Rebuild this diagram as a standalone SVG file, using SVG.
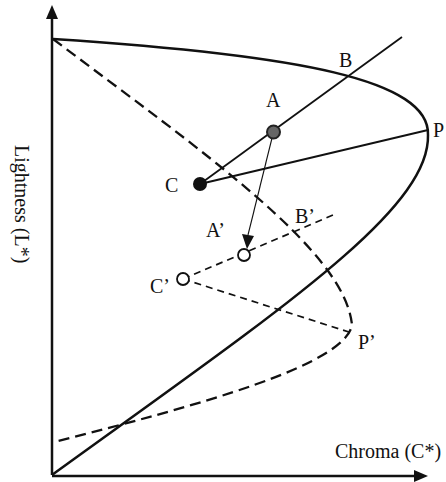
<svg xmlns="http://www.w3.org/2000/svg" width="446" height="482" viewBox="0 0 446 482">
<style>
.t{font-family:"Liberation Serif","Times New Roman",serif;font-size:20px;fill:#111}
.solid{fill:none;stroke:#111;stroke-width:2.5}
.thin{fill:none;stroke:#111;stroke-width:1.8}
.dash{fill:none;stroke:#111;stroke-width:2.3;stroke-dasharray:11 6}
.dash2{fill:none;stroke:#111;stroke-width:1.7;stroke-dasharray:7 5}
</style>
<rect width="446" height="482" fill="#fff"/>
<g id="axes">
<line x1="52" y1="475" x2="52" y2="18" class="solid"/>
<polygon points="52,5 46,19 58,19" fill="#111"/>
<line x1="52" y1="476" x2="414" y2="476" class="solid"/>
<polygon points="428,476 414,470 414,482" fill="#111"/>
<text class="t" x="335" y="458">Chroma (C*)</text>
<text class="t" transform="translate(15,145) rotate(90)">Lightness (L*)</text>
</g>
<g id="connectors">
<path id="gamut" class="solid" d="M53,39 C300,55 430,80 428,135 C430,210 280,310 52,475"/>
<path id="gamut2" class="dash" d="M53,39 C200,150 345,250 352,325 C345,365 200,405 54,442"/>
<line x1="200" y1="184" x2="402" y2="37" class="thin"/>
<line x1="200" y1="184" x2="428" y2="130" class="thin"/>
<line x1="183" y1="279" x2="333" y2="215" class="dash2"/>
<line x1="183" y1="279" x2="352" y2="333" class="dash2"/>
<line x1="272" y1="138" x2="248" y2="235" stroke="#111" stroke-width="1.1"/>
<polygon points="247,249 242,234 254,236" fill="#111"/>
</g>
<g id="A"><circle cx="273.5" cy="132" r="6.5" fill="#666" stroke="#222" stroke-width="2"/><text class="t" x="266" y="107">A</text></g>
<g id="B"><text class="t" x="339" y="67">B</text></g>
<g id="P"><text class="t" x="433" y="137">P</text></g>
<g id="C"><circle cx="200" cy="184" r="7" fill="#111"/><text class="t" x="165" y="192">C</text></g>
<g id="Ap"><circle cx="244" cy="255" r="6" fill="#fff" stroke="#111" stroke-width="1.8"/><text class="t" x="206" y="237">A’</text></g>
<g id="Bp"><text class="t" x="295" y="223">B’</text></g>
<g id="Cp"><circle cx="183" cy="279" r="6" fill="#fff" stroke="#111" stroke-width="1.8"/><text class="t" x="150" y="293">C’</text></g>
<g id="Pp"><text class="t" x="358" y="349">P’</text></g>
</svg>
